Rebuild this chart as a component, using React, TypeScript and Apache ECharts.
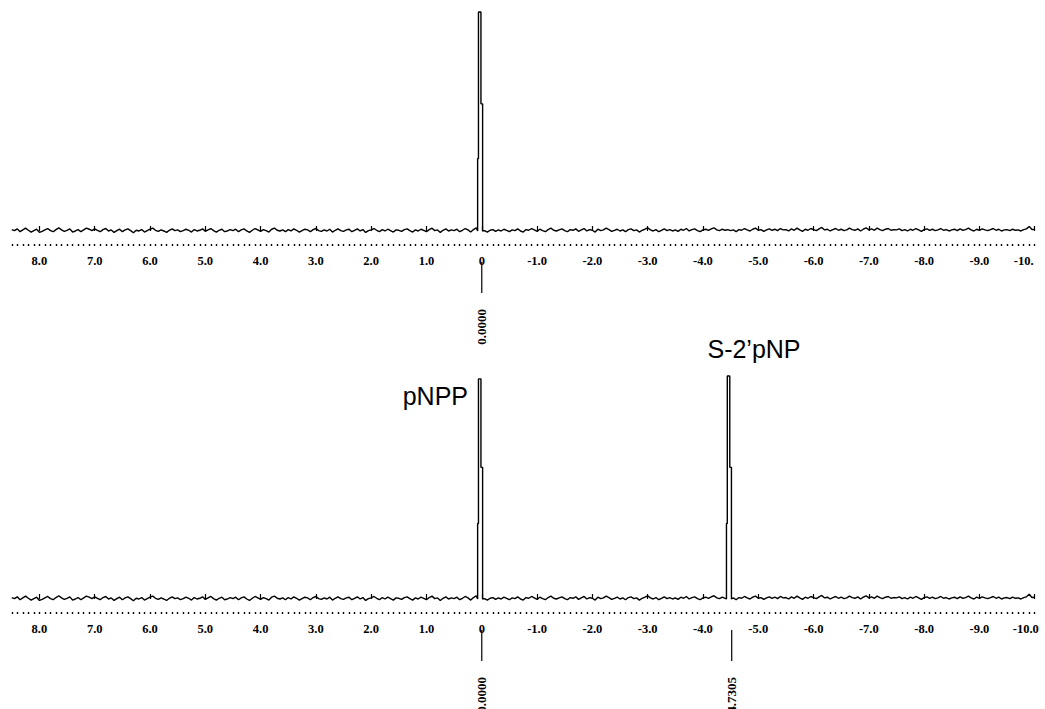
import React, { useEffect, useRef } from "react";
import * as echarts from "echarts";

// chemical shift grid of the baseline samples (ppm)
const X_START = 8.5;
const X_STEP = 0.05;

// baseline noise (intensity units, tallest peak = 62)
const NOISE = [
  0.4, 0.1, 0.6, -0.2, 0.3, 0.8, 0.2, -0.3, 0.1, 0.5, -0.4, -0.1, 0.3, 0.7, 0.1, -0.2, 0.4, 0.9, 0.3, -0.1,
  0.2, 0.6, -0.3, 0.0, 0.4, -0.2, 0.3, 0.8, 0.5, 0.1, 0.6, 0.2, -0.2, 0.4, 0.7, 0.0, 0.3, -0.4, 0.1, 0.5,
  -0.2, 0.3, 0.6, 0.1, -0.5, 0.2, 0.0, 0.4, -0.3, 0.1, 0.5, 0.8, 0.2, -0.1, 0.3, 0.0, -0.4, 0.2, 0.6, 0.1,
  0.3, -0.2, 0.1, 0.5, 0.2, -0.3, 0.4, 0.0, 0.2, 0.6, -0.1, 0.3, 0.7, 0.1, -0.3, 0.2, 0.5, -0.2, 0.0, 0.4,
  0.1, 0.5, -0.2, 0.3, 0.6, 0.0, -0.4, 0.2, 0.7, 0.3, -0.1, 0.4, 0.1, -0.3, 0.5, 0.8, 0.2, 0.0, 0.3, -0.2,
  0.4, 0.0, 0.6, 0.2, -0.3, 0.1, 0.5, 0.3, -0.2, 0.4, 0.7, 0.1, -0.1, 0.3, 0.0, 0.5, -0.3, 0.2, 0.6, 0.1,
  -0.1, 0.3, 0.5, -0.2, 0.2, 0.6, 0.0, 0.4, -0.4, 0.1, 0.3, 0.7, 0.2, -0.2, 0.4, 0.0, 0.5, 0.1, -0.3, 0.3,
  0.2, -0.1, 0.4, 0.6, 0.1, -0.3, 0.3, 0.0, 0.5, 0.2, -0.2, 0.4, 0.8, 0.1, 0.3, -0.4, 0.2, 0.6, 0.0, 0.3,
  0.1, 0.5, -0.2, 0.2, 0.7, 0.3, -0.3, 0.4, 0.9, 0.2, 0.0, 0.1, -0.3, 0.2, 0.4, -0.1, 0.3, 0.0, 0.5, 0.2,
  -0.2, 0.3, 0.1, 0.6, 0.0, -0.3, 0.4, 0.2, 0.7, 0.3, -0.1, 0.5, 0.1, -0.2, 0.4, 0.8, 0.2, 0.0, 0.3, 0.6,
  0.1, -0.2, 0.4, 0.2, 0.6, -0.1, 0.3, 0.7, 0.0, 0.4, 0.2, -0.3, 0.5, 0.1, 0.3, 0.8, 0.4, -0.1, 0.2, 0.5,
  0.0, 0.3, -0.2, 0.4, 0.6, 0.1, 0.3, -0.3, 0.2, 0.5, 0.9, 0.3, 0.0, 0.4, -0.2, 0.2, 0.6, 0.1, 0.4, 0.0,
  0.3, -0.1, 0.5, 0.2, 0.7, 0.0, 0.4, 0.6, 0.1, -0.2, 0.3, 0.5, 0.2, 0.6, 0.9, 0.3, 0.1, 0.5, 0.2, 0.4,
  0.1, 0.3, -0.2, 0.4, 0.2, 0.7, 0.3, 0.0, 0.5, 0.8, 0.2, 0.4, -0.1, 0.3, 0.6, 0.2, 0.5, 0.1, 0.7, 0.3,
  0.4, 0.0, 0.6, 0.2, 0.8, 0.3, -0.1, 0.5, 0.2, 0.7, 0.4, 0.1, 0.6, 1.0, 0.3, 0.5, 0.0, 0.4, 0.7, 0.2,
  0.5, 0.1, 0.3, 0.8, 0.4, 0.2, 0.6, 0.0, 0.5, 0.9, 0.3, 0.6, 0.2, 0.8, 0.4, 0.1, 0.5, 0.7, 0.2, 0.4,
  0.3, 0.6, 0.1, 0.4, 0.0, 0.5, 0.2, 0.7, 0.3, -0.1, 0.4, 0.6, 0.2, 0.5, 0.1, 0.3, 0.7, 0.2, 0.4, 0.0,
  0.3, 0.5, 0.1, 0.6, 0.2, 0.4, 0.8, 0.3, 0.0, 0.5, 0.2, 0.6, 0.3, 0.1, 0.4, 0.7, 0.2, 0.5, 0.0, 0.3,
  0.4, 0.1, 0.5, 0.2, 0.3, 0.0, 0.4, 0.6, 1.3, 0.4, 0.5,
];

// peak outlines (ppm, intensity)
const TOP_PEAK_X = [0.075, 0.075, 0.06, 0.06, 0.015, 0.015, -0.015, -0.015];
const TOP_PEAK_Y = [0, 20.5, 20.5, 62, 62, 36, 36, 0];
const PNPP_PEAK_X = [0.075, 0.075, 0.06, 0.06, 0.015, 0.015, -0.015, -0.015];
const PNPP_PEAK_Y = [0, 21, 21, 61.2, 61.2, 36.6, 36.6, 0];
const S2PNP_PEAK_X = [-4.425, -4.425, -4.44, -4.44, -4.485, -4.485, -4.515, -4.515];
const S2PNP_PEAK_Y = [0, 21, 21, 62, 62, 36.6, 36.6, 0];

// axis
const TICK_VALUES = [8, 7, 6, 5, 4, 3, 2, 1, 0, -1, -2, -3, -4, -5, -6, -7, -8, -9, -10];
const TOP_TICK_LABELS = ["8.0", "7.0", "6.0", "5.0", "4.0", "3.0", "2.0", "1.0", "0", "-1.0", "-2.0", "-3.0", "-4.0", "-5.0", "-6.0", "-7.0", "-8.0", "-9.0", "-10."];
const BOTTOM_TICK_LABELS = ["8.0", "7.0", "6.0", "5.0", "4.0", "3.0", "2.0", "1.0", "0", "-1.0", "-2.0", "-3.0", "-4.0", "-5.0", "-6.0", "-7.0", "-8.0", "-9.0", "-10.0"];
const MINOR_TICK_START = 8.5;
const MINOR_TICK_END = -10.0;
const MINOR_TICK_STEP = 0.1;

// peak pick markers
const TOP_MARKER_PPM = [0];
const TOP_MARKER_LABELS = ["0.0000"];
const BOTTOM_MARKER_PPM = [0, -4.52];
const BOTTOM_MARKER_LABELS = ["0.0000", "-4.7305"];

const X_MIN = -10.05;
const X_MAX = 8.55;

function buildSpectrum(peaksX: number[][], peaksY: number[][]): [number, number][] {
  const pts: [number, number][] = [];
  NOISE.forEach((v, i) => {
    const x = +(X_START - i * X_STEP).toFixed(3);
    const inside = peaksX.some((px) => x < px[0] && x > px[px.length - 1]);
    if (!inside) pts.push([x, v]);
  });
  peaksX.forEach((px, k) => px.forEach((x, j) => pts.push([x, peaksY[k][j]])));
  pts.sort((a, b) => b[0] - a[0]);
  return pts;
}

const minorTicks: number[] = [];
for (let i = 0; ; i++) {
  const v = +(MINOR_TICK_START - i * MINOR_TICK_STEP).toFixed(2);
  if (v < MINOR_TICK_END - 1e-6) break;
  minorTicks.push(v);
}

const LABEL_FONT = "Liberation Serif";

function majorAxis(gridIndex: number, labels: string[], margin: number, endPad: number) {
  const lastIdx = TICK_VALUES.length - 1;
  const textStyle = {
    color: "#000",
    fontFamily: LABEL_FONT,
    fontWeight: "bold",
    fontSize: 12.5,
  };
  return {
    type: "value",
    gridIndex,
    min: X_MIN,
    max: X_MAX,
    inverse: true,
    position: "bottom",
    axisLine: { show: false },
    splitLine: { show: false },
    axisTick: {
      show: true,
      inside: true,
      length: 5,
      customValues: TICK_VALUES,
      lineStyle: { color: "#000", width: 1.2 },
    },
    axisLabel: {
      show: true,
      customValues: TICK_VALUES,
      margin,
      ...textStyle,
      hideOverlap: false,
      rich: {
        end: { ...textStyle, padding: [0, endPad, 0, 0] },
      },
      formatter: (v: number) => {
        const idx = TICK_VALUES.findIndex((t) => Math.abs(t - v) < 1e-6);
        if (idx < 0) return "";
        return idx === lastIdx ? `{end|${labels[idx]}}` : labels[idx];
      },
    },
  };
}

function minorAxis(gridIndex: number) {
  return {
    type: "value",
    gridIndex,
    min: X_MIN,
    max: X_MAX,
    inverse: true,
    position: "bottom",
    axisLine: { show: false },
    splitLine: { show: false },
    axisLabel: { show: false },
    axisTick: {
      show: true,
      inside: true,
      length: 2,
      customValues: minorTicks,
      lineStyle: { color: "#000", width: 1.4 },
    },
  };
}

function markerSeries(axisIndex: number, ppm: number[], labels: string[]) {
  return {
    type: "custom",
    xAxisIndex: axisIndex,
    yAxisIndex: axisIndex === 0 ? 0 : 1,
    clip: false,
    silent: true,
    data: ppm.map((v, i) => [v, 0, i]),
    renderItem: (params: any, api: any) => {
      const x = api.coord([api.value(0), 0])[0];
      const cs = params.coordSys;
      const yb = cs.y + cs.height;
      const label = labels[api.value(2)];
      return {
        type: "group",
        children: [
          {
            type: "line",
            shape: { x1: x, y1: yb + 16, x2: x, y2: yb + 47 },
            style: { stroke: "#000", lineWidth: 1.2 },
          },
          {
            type: "text",
            x: x,
            y: yb + 63,
            rotation: Math.PI / 2,
            style: {
              text: label,
              align: "right",
              verticalAlign: "middle",
              fontFamily: LABEL_FONT,
              fontWeight: "bold",
              fontSize: 13,
              fill: "#000",
            },
          },
        ],
      };
    },
  };
}

export default function App() {
  const ref = useRef<HTMLDivElement>(null);
  useEffect(() => {
    if (!ref.current) return;
    const chart = echarts.init(ref.current, undefined, { renderer: "svg" });
    const top = buildSpectrum([TOP_PEAK_X], [TOP_PEAK_Y]);
    const bottom = buildSpectrum([PNPP_PEAK_X, S2PNP_PEAK_X], [PNPP_PEAK_Y, S2PNP_PEAK_Y]);
    chart.setOption({
      animation: false,
      backgroundColor: "#fff",
      grid: [
        { left: 9, right: 7.5, top: 12, height: 234, containLabel: false, outerBoundsMode: "none" },
        { left: 9, right: 7.5, top: 376, height: 238, containLabel: false, outerBoundsMode: "none" },
      ],
      xAxis: [
        majorAxis(0, TOP_TICK_LABELS, 8, 22),
        minorAxis(0),
        majorAxis(1, BOTTOM_TICK_LABELS, 8, 18),
        minorAxis(1),
      ],
      yAxis: [
        { type: "value", gridIndex: 0, min: -4.25, max: 62, show: false },
        { type: "value", gridIndex: 1, min: -4.17, max: 62, show: false },
      ],
      series: [
        {
          type: "line",
          xAxisIndex: 0,
          yAxisIndex: 0,
          data: top,
          showSymbol: false,
          clip: false,
          lineStyle: { color: "#000", width: 1.4 },
        },
        {
          type: "line",
          xAxisIndex: 2,
          yAxisIndex: 1,
          data: bottom,
          showSymbol: false,
          clip: false,
          lineStyle: { color: "#000", width: 1.4 },
        },
        markerSeries(0, TOP_MARKER_PPM, TOP_MARKER_LABELS),
        markerSeries(2, BOTTOM_MARKER_PPM, BOTTOM_MARKER_LABELS),
      ],
      graphic: [
        {
          type: "text",
          x: 468,
          y: 396,
          style: {
            text: "pNPP",
            align: "right",
            verticalAlign: "middle",
            fontFamily: "Liberation Sans",
            fontSize: 25,
            fill: "#000",
          },
        },
        {
          type: "text",
          x: 754,
          y: 349,
          style: {
            text: "S-2\u2019pNP",
            align: "center",
            verticalAlign: "middle",
            fontFamily: "Liberation Sans",
            fontSize: 25,
            fill: "#000",
          },
        },
      ],
    });
    return () => chart.dispose();
  }, []);
  return (
    <div
      ref={ref}
      style={{ position: "absolute", left: 0, top: 0, width: 1045, height: 709, background: "#fff" }}
    />
  );
}
